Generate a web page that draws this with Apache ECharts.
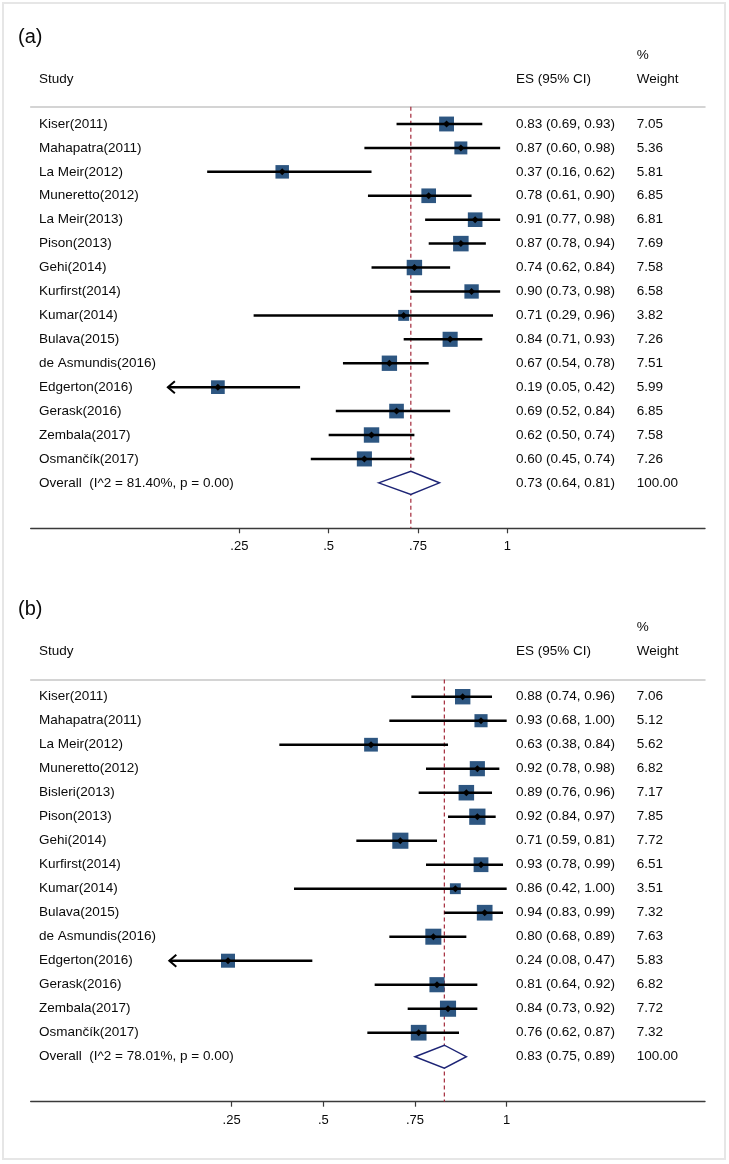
<!DOCTYPE html>
<html><head><meta charset="utf-8">
<script src="https://cdn.jsdelivr.net/npm/echarts@6/dist/echarts.min.js"></script>
<style>html,body{margin:0;padding:0;background:#fff}#c{width:729px;height:1164px}</style>
</head><body><div id="c"></div>
<script>
// ---------- DATA ----------
const studiesA = ['Kiser(2011)','Mahapatra(2011)','La Meir(2012)','Muneretto(2012)','La Meir(2013)','Pison(2013)','Gehi(2014)','Kurfirst(2014)','Kumar(2014)','Bulava(2015)','de Asmundis(2016)','Edgerton(2016)','Gerask(2016)','Zembala(2017)','Osmančík(2017)'];
const esA = [0.83,0.87,0.37,0.78,0.91,0.87,0.74,0.90,0.71,0.84,0.67,0.19,0.69,0.62,0.60];
const loA = [0.69,0.60,0.16,0.61,0.77,0.78,0.62,0.73,0.29,0.71,0.54,0.05,0.52,0.50,0.45];
const hiA = [0.93,0.98,0.62,0.90,0.98,0.94,0.84,0.98,0.96,0.93,0.78,0.42,0.84,0.74,0.74];
const wA  = [7.05,5.36,5.81,6.85,6.81,7.69,7.58,6.58,3.82,7.26,7.51,5.99,6.85,7.58,7.26];
const overallA = [0.73,0.64,0.81];
const overallLabelA = 'Overall  (I^2 = 81.40%, p = 0.00)';

const studiesB = ['Kiser(2011)','Mahapatra(2011)','La Meir(2012)','Muneretto(2012)','Bisleri(2013)','Pison(2013)','Gehi(2014)','Kurfirst(2014)','Kumar(2014)','Bulava(2015)','de Asmundis(2016)','Edgerton(2016)','Gerask(2016)','Zembala(2017)','Osmančík(2017)'];
const esB = [0.88,0.93,0.63,0.92,0.89,0.92,0.71,0.93,0.86,0.94,0.80,0.24,0.81,0.84,0.76];
const loB = [0.74,0.68,0.38,0.78,0.76,0.84,0.59,0.78,0.42,0.83,0.68,0.08,0.64,0.73,0.62];
const hiB = [0.96,1.00,0.84,0.98,0.96,0.97,0.81,0.99,1.00,0.99,0.89,0.47,0.92,0.92,0.87];
const wB  = [7.06,5.12,5.62,6.82,7.17,7.85,7.72,6.51,3.51,7.32,7.63,5.83,6.82,7.72,7.32];
const overallB = [0.83,0.75,0.89];
const overallLabelB = 'Overall  (I^2 = 78.01%, p = 0.00)';

const tickValues = [0.25,0.5,0.75,1];
const tickLabels = ['.25','.5','.75','1'];
const totalWeight = '100.00';

// ---------- LAYOUT ----------
const FONT = '"Liberation Sans", Arial, Helvetica, sans-serif';
const FS = 13.5;
const ARROW_LIMIT = 0.1;
const SQ_COLOR = '#2d5681';
const panels = [
  {studies:studiesA, es:esA, lo:loA, hi:hiA, w:wA, ov:overallA, ovLabel:overallLabelA,
   top:106.7, height:421.6, xMin:-0.3339, xMax:1.5533, yMin:-0.723, yMax:16.9, sq:5.6, tag:'(a)', off:0},
  {studies:studiesB, es:esB, lo:loB, hi:hiB, w:wB, ov:overallB, ovLabel:overallLabelB,
   top:679.5, height:422.2, xMin:-0.298, xMax:1.5408, yMin:-0.717, yMax:16.875, sq:5.8, tag:'(b)', off:572.7}
];
const COL_NAME = 39, COL_ES = 516, COL_W = 636.7;

function txt(t, x, y, size, align){
  return {type:'text', x:x, y:y, style:{text:t, font: size+'px '+FONT, fill:'#0a0a0a',
    align:align||'left', verticalAlign:'middle', textAlign:align||'left', textVerticalAlign:'middle'}};
}
function fmt(v){return v.toFixed(2);}

const grid=[], xAxis=[], yAxis=[], series=[], graphic=[];
graphic.push({type:'rect', shape:{x:3,y:3,width:722,height:1156}, style:{fill:null, stroke:'#e6e6e6', lineWidth:2}, silent:true});

panels.forEach((p, k) => {
  grid.push({left:30.7, right:24, top:p.top, height:p.height, containLabel:false});
  xAxis.push({type:'value', gridIndex:k, position:'bottom', min:p.xMin, max:p.xMax,
    splitLine:{show:false},
    axisLine:{show:true, onZero:false, lineStyle:{color:'#3a3a3a', width:1.4}},
    axisTick:{show:true, customValues:tickValues, length:5, lineStyle:{color:'#3a3a3a', width:1.2}},
    axisLabel:{show:true, customValues:tickValues, margin:12, color:'#0a0a0a', fontSize:13, fontFamily:FONT,
      formatter: v => { const i = tickValues.findIndex(t => Math.abs(t-v) < 1e-6); return i>=0 ? tickLabels[i] : ''; }}
  });
  xAxis.push({type:'value', gridIndex:k, position:'top', min:p.xMin, max:p.xMax,
    splitLine:{show:false}, axisTick:{show:false}, axisLabel:{show:false},
    axisLine:{show:true, onZero:false, lineStyle:{color:'#c6c6c6', width:1.5}}});
  yAxis.push({type:'value', gridIndex:k, inverse:true, min:p.yMin, max:p.yMax, show:false, axisLine:{onZero:false}});
  const xi = k*2;
  const n = p.studies.length;

  // dashed overall line
  series.push({type:'line', xAxisIndex:xi, yAxisIndex:k, symbol:'none', silent:true,
    data:[[p.ov[0], p.yMin],[p.ov[0], p.yMax]],
    lineStyle:{color:'#a3293a', width:1.2, type:[4,3]}, z:1});

  // study rows
  const rows = p.studies.map((s,i)=>[p.es[i], p.lo[i], p.hi[i], p.w[i], i]);
  series.push({type:'custom', xAxisIndex:xi, yAxisIndex:k, silent:true, z:2,
    encode:{x:[0,1,2], y:4}, data:rows,
    renderItem:(params, api)=>{
      const es=api.value(0), lo=api.value(1), hi=api.value(2), w=api.value(3), r=api.value(4);
      const c=api.coord([es,r]), a=api.coord([lo,r]), b=api.coord([hi,r]);
      const s=p.sq*Math.sqrt(w);
      const ch=[
        {type:'rect', shape:{x:c[0]-s/2, y:c[1]-s/2, width:s, height:s}, style:{fill:SQ_COLOR}},
        {type:'line', shape:{x1:a[0], y1:a[1], x2:b[0], y2:b[1]}, style:{stroke:'#000', lineWidth:2.5}},
        {type:'polygon', shape:{points:[[c[0]-3.5,c[1]],[c[0],c[1]-3.5],[c[0]+3.5,c[1]],[c[0],c[1]+3.5]]}, style:{fill:'#000'}}
      ];
      if (lo < ARROW_LIMIT) ch.push({type:'polyline', shape:{points:[[a[0]+7,a[1]-6],[a[0],a[1]],[a[0]+7,a[1]+6]]}, style:{stroke:'#000', fill:null, lineWidth:2}});
      return {type:'group', children:ch};
    }});

  // overall diamond
  series.push({type:'custom', xAxisIndex:xi, yAxisIndex:k, silent:true, z:3,
    encode:{x:[0,1,2], y:3}, data:[[p.ov[0], p.ov[1], p.ov[2], n]],
    renderItem:(params, api)=>{
      const r=api.value(3);
      const c=api.coord([api.value(0), r]), a=api.coord([api.value(1), r]), b=api.coord([api.value(2), r]);
      const h=11.5;
      return {type:'polygon', shape:{points:[[a[0],a[1]],[c[0],c[1]-h],[b[0],b[1]],[c[0],c[1]+h]]},
        style:{fill:'#fff', stroke:'#1d2475', lineWidth:1.5}};
    }});

  // text table
  const names = p.studies.concat([p.ovLabel]);
  const esTxt = p.es.map((e,i)=>fmt(e)+' ('+fmt(p.lo[i])+', '+fmt(p.hi[i])+')').concat([fmt(p.ov[0])+' ('+fmt(p.ov[1])+', '+fmt(p.ov[2])+')']);
  const wTxt = p.w.map(fmt).concat([totalWeight]);
  series.push({type:'custom', xAxisIndex:xi, yAxisIndex:k, silent:true, z:4,
    encode:{x:0, y:1}, data:names.map((s,i)=>[0,i]),
    renderItem:(params, api)=>{
      const i=params.dataIndex;
      const y=api.coord([0, api.value(1)])[1];
      return {type:'group', children:[
        txt(names[i], COL_NAME, y, FS), txt(esTxt[i], COL_ES, y, FS), txt(wTxt[i], COL_W, y, FS)
      ]};
    }});

  // headers
  graphic.push(txt(p.tag, 18, 37+p.off, 20));
  graphic.push(txt('Study', COL_NAME, 79+p.off, FS));
  graphic.push(txt('ES (95% CI)', COL_ES, 79+p.off, FS));
  graphic.push(txt('%', COL_W, 55+p.off, FS));
  graphic.push(txt('Weight', COL_W, 79+p.off, FS));
});

const chart = echarts.init(document.getElementById('c'), null, {renderer:'canvas'});
chart.setOption({animation:false, backgroundColor:'#fff', grid, xAxis, yAxis, series, graphic});
</script></body></html>
